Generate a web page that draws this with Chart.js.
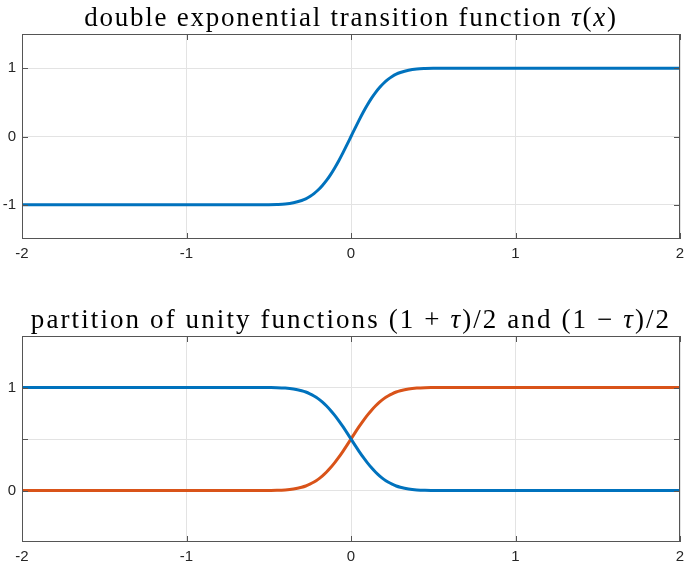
<!DOCTYPE html>
<html>
<head>
<meta charset="utf-8">
<script src="https://cdn.jsdelivr.net/npm/chart.js@4/dist/chart.umd.min.js"></script>
<style>
  html, body { margin: 0; padding: 0; background: #fff; }
  #wrap { position: relative; width: 685px; height: 568px; }
  .box { position: absolute; left: 0; width: 685px; }
  #topBox { top: 0; height: 301px; }
  #botBox { top: 301px; height: 267px; }
</style>
</head>
<body>
<div id="wrap">
  <div class="box" id="topBox"><canvas id="tauChart"></canvas></div>
  <div class="box" id="botBox"><canvas id="puChart"></canvas></div>
</div>
<script>
// DATA
const xVals = [-2, -0.6, -0.5, -0.45, -0.4, -0.35, -0.3, -0.275, -0.25, -0.225, -0.2, -0.175, -0.15,
  -0.125, -0.1, -0.075, -0.05, -0.025, 0, 0.025, 0.05, 0.075, 0.1, 0.125, 0.15, 0.175, 0.2,
  0.225, 0.25, 0.275, 0.3, 0.35, 0.4, 0.45, 0.5, 0.6, 2];
const tauVals = [-1, -1, -0.998, -0.995, -0.988, -0.97, -0.936, -0.912, -0.878, -0.835, -0.783, -0.72, -0.646,
  -0.561, -0.464, -0.358, -0.243, -0.123, 0, 0.123, 0.243, 0.358, 0.464, 0.561, 0.646, 0.72, 0.783,
  0.835, 0.878, 0.912, 0.936, 0.97, 0.988, 0.995, 0.998, 1, 1];
// (1 + tau)/2, orange
const plusVals = [0, 0, 0.001, 0.002, 0.006, 0.015, 0.032, 0.044, 0.061, 0.082, 0.108, 0.14, 0.177,
  0.22, 0.268, 0.321, 0.378, 0.438, 0.5, 0.562, 0.622, 0.679, 0.732, 0.78, 0.823, 0.86, 0.892,
  0.918, 0.939, 0.956, 0.968, 0.985, 0.994, 0.998, 0.999, 1, 1];
// (1 - tau)/2, blue
const minusVals = [1, 1, 0.999, 0.998, 0.994, 0.985, 0.968, 0.956, 0.939, 0.918, 0.892, 0.86, 0.823,
  0.78, 0.732, 0.679, 0.622, 0.562, 0.5, 0.438, 0.378, 0.321, 0.268, 0.22, 0.177, 0.14, 0.108,
  0.082, 0.061, 0.044, 0.032, 0.015, 0.006, 0.002, 0.001, 0, 0];

const xTicks = [-2, -1, 0, 1, 2];
const tauYTicks = [-1, 0, 1];
const puYTicks = [0, 0.5, 1];
const puYLabels = { 0: "0", 1: "1" };

// title pieces: [text, italic]
const TITLE_TOP = [["double exponential transition function ", false], ["τ", true], ["(", false], ["x", true], [")", false]];
const TITLE_BOT = [["partition of unity functions (1 + ", false], ["τ", true], [")/2 and (1 − ", false], ["τ", true], [")/2", false]];

const BLUE = "#0072BD";
const ORANGE = "#D95319";

// HELPERS
function toPoints(ys) {
  return xVals.map((x, i) => ({ x: x, y: ys[i] }));
}

function lineSet(ys, color) {
  return {
    data: toPoints(ys),
    borderColor: color,
    borderWidth: 3,
    pointRadius: 0,
    cubicInterpolationMode: "monotone",
    fill: false
  };
}

// box around the axes with matlab-like inward ticks
const boxPlugin = {
  id: "box",
  afterDatasetsDraw(chart) {
    const { ctx, chartArea: a, scales } = chart;
    ctx.save();
    ctx.strokeStyle = "#555";
    ctx.lineWidth = 1;
    ctx.strokeRect(a.left + 0.5, a.top + 0.5, a.right - a.left - 1, a.bottom - a.top - 1);
    ctx.beginPath();
    scales.x.ticks.forEach(t => {
      const px = Math.round(scales.x.getPixelForValue(t.value)) + 0.5;
      ctx.moveTo(px, a.bottom); ctx.lineTo(px, a.bottom - 6);
      ctx.moveTo(px, a.top); ctx.lineTo(px, a.top + 6);
    });
    scales.y.ticks.forEach(t => {
      const py = Math.round(scales.y.getPixelForValue(t.value)) + 0.5;
      ctx.moveTo(a.left, py); ctx.lineTo(a.left + 6, py);
      ctx.moveTo(a.right, py); ctx.lineTo(a.right - 6, py);
    });
    ctx.stroke();
    ctx.restore();
  }
};

// latex-like title with italic math letters
const titlePlugin = {
  id: "mathTitle",
  afterDraw(chart, args, opts) {
    const { ctx, chartArea: a } = chart;
    const size = opts.size;
    const fontOf = it => (it ? "italic " : "") + size + "px 'Liberation Serif', serif";
    ctx.save();
    ctx.fillStyle = "#000";
    ctx.textBaseline = "alphabetic";
    ctx.textAlign = "left";
    if ("letterSpacing" in ctx) ctx.letterSpacing = opts.spacing + "px";
    let total = 0;
    opts.pieces.forEach(([t, it]) => { ctx.font = fontOf(it); total += ctx.measureText(t).width; });
    let x = (a.left + a.right) / 2 - total / 2;
    opts.pieces.forEach(([t, it]) => {
      ctx.font = fontOf(it);
      ctx.fillText(t, x, opts.baseline);
      x += ctx.measureText(t).width;
    });
    ctx.restore();
  }
};

function makeOptions(pieces, spacing, yMin, yMax, yTicks, yLabel, topPad, xAxisHeight) {
  return {
    responsive: true,
    maintainAspectRatio: false,
    animation: false,
    layout: { padding: { left: 0, right: 5, top: topPad, bottom: 0 } },
    plugins: {
      legend: { display: false },
      tooltip: { enabled: false },
      title: { display: false },
      mathTitle: { pieces: pieces, size: 27, spacing: spacing, baseline: topPad - 8 }
    },
    scales: {
      x: {
        type: "linear",
        min: -2,
        max: 2,
        afterBuildTicks: s => { s.ticks = xTicks.map(v => ({ value: v })); },
        afterFit: s => { s.height = xAxisHeight; s.paddingLeft = 0; s.paddingRight = 0; },
        ticks: {
          color: "#262626",
          font: { family: "'Liberation Sans', Arial, sans-serif", size: 15 },
          padding: 6,
          maxRotation: 0
        },
        grid: { color: "#e3e3e3", drawTicks: false },
        border: { display: false }
      },
      y: {
        min: yMin,
        max: yMax,
        afterBuildTicks: s => { s.ticks = yTicks.map(v => ({ value: v })); },
        afterFit: s => { s.width = 22; s.paddingTop = 0; s.paddingBottom = 0; },
        ticks: {
          color: "#262626",
          font: { family: "'Liberation Sans', Arial, sans-serif", size: 15 },
          padding: 6,
          callback: yLabel
        },
        grid: { color: "#e3e3e3", drawTicks: false },
        border: { display: false }
      }
    }
  };
}

// INIT
new Chart(document.getElementById("tauChart"), {
  type: "line",
  data: { datasets: [lineSet(tauVals, BLUE)] },
  options: makeOptions(TITLE_TOP, 1.75, -1.5, 1.5, tauYTicks, v => String(v), 34, 62),
  plugins: [boxPlugin, titlePlugin]
});

new Chart(document.getElementById("puChart"), {
  type: "line",
  data: { datasets: [lineSet(minusVals, BLUE), lineSet(plusVals, ORANGE)] },
  options: makeOptions(TITLE_BOT, 2.1, -0.5, 1.5, puYTicks, v => puYLabels[v] || "", 35, 26),
  plugins: [boxPlugin, titlePlugin]
});
</script>
</body>
</html>
